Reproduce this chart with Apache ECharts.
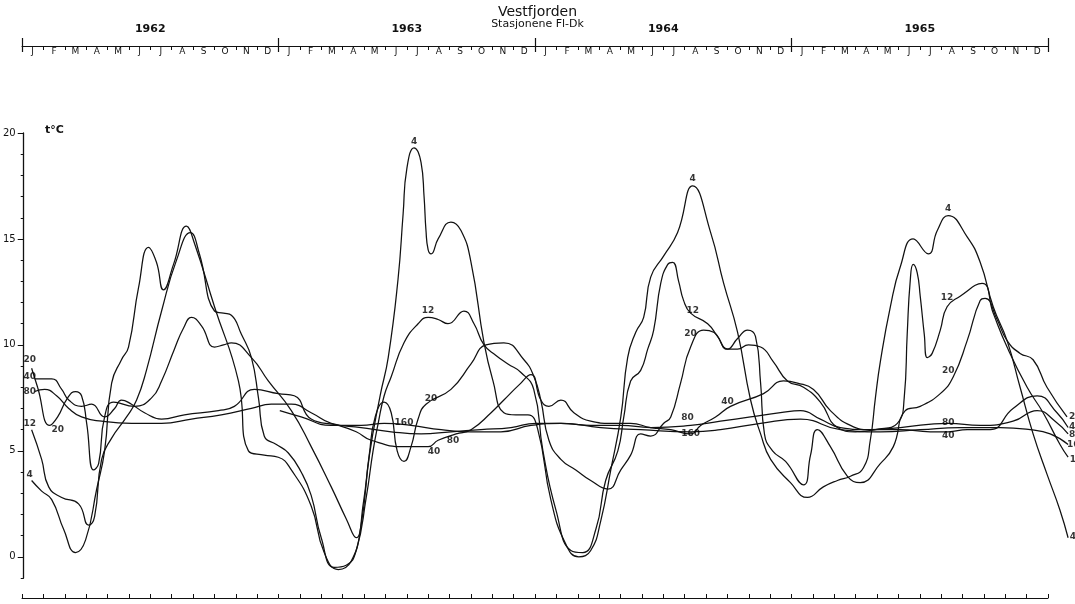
<!DOCTYPE html>
<html>
<head>
<meta charset="utf-8">
<script src="https://cdn.jsdelivr.net/npm/echarts@6/dist/echarts.min.js"></script>
<style>
  html, body { margin: 0; padding: 0; background: #fff; }
  #chart { width: 1075px; height: 604px; }
</style>
</head>
<body>
<div id="chart"></div>
<script>
// Time is counted in months from 1 January 1962; temperature in °C.
const years = ['1962', '1963', '1964', '1965'];
const monthNames = ['J', 'F', 'M', 'A', 'M', 'J', 'J', 'A', 'S', 'O', 'N', 'D'];
const yTickValues = [0, 5, 10, 15, 20];

// 4 m
const depth4 = [
  [0.37, 3.6], [0.84, 3.1], [1.31, 2.7], [1.87, 1.3], [2.43, 0.2], [2.9, 0.8], [3.42, 3.2], [3.79, 5.0],
  [4.12, 8.2], [4.58, 9.3], [4.91, 9.9], [5.38, 12.7], [5.85, 14.6], [6.22, 13.9], [6.55, 12.6], [7.02, 13.8],
  [7.63, 15.6], [8.0, 14.8], [8.94, 11.8], [10.06, 8.3], [10.53, 5.0], [11.27, 4.8], [11.93, 4.7],
  [12.54, 4.1], [13.47, 2.4], [14.08, 0.2], [14.74, -0.6], [15.35, -0.2], [15.81, 1.5], [16.2, 4.8],
  [16.7, 7.6], [17.08, 9.4], [17.54, 13.1], [17.78, 16.2], [17.95, 18.3], [18.29, 19.3], [18.62, 18.6],
  [18.76, 17.0], [18.85, 15.4], [18.95, 14.5], [19.09, 14.3], [19.42, 15.0], [20.02, 15.8], [20.49, 15.4],
  [20.96, 13.9], [21.57, 10.1], [21.99, 8.3], [22.5, 6.8], [23.06, 6.7], [23.63, 6.7], [24.09, 6.0],
  [24.7, 2.7], [25.4, 0.6], [26.01, 0.0], [26.57, 0.3], [27.04, 1.7], [27.51, 4.1], [27.98, 6.6], [28.3, 9.4],
  [28.68, 10.6], [29.05, 11.3], [29.38, 13.2], [29.99, 14.2], [30.64, 15.3], [31.35, 17.5], [32.19, 15.3],
  [32.8, 12.9], [33.45, 10.6], [34.06, 7.4], [34.53, 5.8], [35.0, 4.6],
  [35.93, 3.5], [36.73, 2.8], [37.47, 3.3], [38.13, 3.6], [38.74, 3.8], [39.35, 4.2], [39.67, 5.5],
  [39.91, 7.5], [40.14, 9.2], [40.61, 11.8], [41.08, 13.7], [41.68, 15.0], [42.39, 14.3], [42.81, 15.4],
  [43.32, 16.1], [44.21, 15.1], [44.82, 13.9], [45.43, 11.8], [46.08, 10.2], [46.69, 8.0], [47.3, 5.8],
  [47.95, 3.9], [48.56, 2.2], [48.94, 0.9]
];

// 12 m
const depth12 = [
  [0.37, 6.0], [0.84, 4.6], [1.17, 3.3], [1.78, 2.8], [2.57, 2.5], [3.04, 1.5], [3.32, 1.9], [3.65, 4.6],
  [4.12, 5.6], [4.82, 6.6], [5.29, 7.4], [5.75, 8.8], [6.46, 11.6], [7.16, 14.0], [7.81, 15.3], [8.23, 14.3],
  [8.94, 11.6], [9.36, 11.5], [9.73, 11.4], [10.2, 10.5], [10.67, 9.4], [11.0, 7.5], [11.27, 5.7],
  [11.84, 5.3], [12.4, 4.9],
  [13.0, 4.0], [13.47, 2.9], [13.94, 0.9], [14.55, -0.5], [15.11, -0.4], [15.58, 0.3], [16.05, 2.8],
  [16.37, 5.0], [16.61, 6.3], [16.89, 7.6], [17.22, 8.5], [17.82, 10.1], [18.48, 11.0], [18.95, 11.3],
  [19.42, 11.2], [19.88, 11.0], [20.63, 11.6], [21.1, 11.0], [21.57, 10.0], [22.13, 9.5], [22.69, 9.1],
  [23.3, 8.7], [23.9, 7.9],
  [24.33, 5.0], [24.94, 2.2], [25.64, 0.3], [26.2, 0.2], [26.81, 1.3], [27.27, 3.6], [27.84, 5.0],
  [28.12, 6.6], [28.44, 8.3], [28.91, 8.8], [29.24, 9.8], [29.52, 10.7], [29.85, 12.9], [30.18, 13.8],
  [30.41, 13.9], [30.69, 13.0], [30.92, 12.1], [31.25, 11.5], [32.05, 11.0], [32.51, 10.4], [32.98, 9.8],
  [33.45, 9.8], [33.96, 10.0], [34.53, 9.9], [35.13, 9.2], [35.79, 8.3], [36.54, 8.0], [37.33, 7.3],
  [38.13, 6.1],
  [38.97, 5.9], [39.91, 6.0], [40.94, 6.3], [41.26, 7.5], [41.4, 10.5], [41.54, 13.0], [41.68, 13.8],
  [41.87, 13.4], [42.01, 12.3], [42.2, 10.5], [42.34, 9.4], [42.57, 9.6], [42.95, 10.7], [43.27, 11.8],
  [43.88, 12.3], [44.91, 12.9], [45.43, 11.5], [46.08, 9.9], [47.02, 8.0], [47.77, 6.8], [48.56, 5.3],
  [48.94, 4.7]
];

// 20 m
const depth20 = [
  [0.37, 8.9], [0.65, 8.0], [1.22, 6.2], [1.59, 6.6], [2.06, 7.5], [2.43, 7.8], [2.71, 7.6], [2.95, 6.3],
  [3.27, 4.1], [3.51, 4.4], [3.79, 6.6], [4.21, 7.3], [5.19, 7.1], [5.99, 7.5], [6.46, 8.3], [7.06, 9.8],
  [7.49, 10.8], [7.86, 11.3], [8.33, 10.9], [8.94, 9.9], [9.36, 10.0], [9.73, 10.1], [10.67, 9.4],
  [11.46, 8.3],
  [12.54, 6.9], [13.47, 5.2], [14.41, 3.3], [15.11, 1.8], [15.58, 0.9], [15.91, 2.5], [16.19, 4.8],
  [16.47, 6.6], [16.89, 7.3], [17.22, 6.8], [17.5, 5.0], [17.82, 4.5], [18.15, 5.2], [18.48, 6.5],
  [18.85, 7.2], [20.02, 7.9], [20.96, 9.1], [21.66, 10.0], [22.5, 10.1], [23.44, 9.3], [23.91, 8.5],
  [24.23, 7.4], [24.61, 5.5], [25.17, 4.6], [25.87, 4.1], [26.57, 3.6], [27.37, 3.2], [27.98, 4.1],
  [28.44, 4.8], [28.91, 5.8], [29.38, 5.7], [29.99, 6.3], [30.32, 6.6], [30.78, 8.2], [31.25, 9.9],
  [31.86, 10.7], [32.33, 10.6], [32.98, 9.8], [33.45, 10.3], [33.92, 10.7], [34.29, 10.4], [34.53, 8.2],
  [34.71, 5.8], [35.09, 5.0],
  [35.7, 4.5], [36.54, 3.4], [36.87, 4.8], [37.19, 6.0], [37.8, 5.2], [38.6, 3.8], [39.2, 3.5],
  [40.14, 4.4], [40.75, 5.2], [41.31, 6.9], [42.01, 7.1], [42.95, 7.7], [43.56, 8.5], [44.21, 10.2],
  [44.82, 12.1], [45.05, 12.2], [45.61, 11.2], [46.08, 10.2], [46.69, 9.6], [47.3, 9.3], [47.95, 8.0],
  [48.89, 6.6]
];

// 40 m
const depth40 = [
  [0.51, 8.4], [1.31, 8.4], [1.78, 7.9], [2.11, 7.4], [2.71, 7.1], [3.18, 7.2], [3.79, 6.6], [4.26, 7.0],
  [4.58, 7.4], [5.05, 7.2], [5.66, 6.8], [6.46, 6.5], [7.53, 6.7], [9.12, 6.9], [9.87, 7.1], [10.81, 7.9],
  [11.93, 7.7],
  [12.68, 7.6], [13.47, 6.5], [14.74, 6.2], [15.58, 5.9], [16.28, 5.5], [17.82, 5.2], [18.95, 5.2],
  [19.42, 5.5], [20.26, 5.8], [20.96, 6.0], [21.9, 6.8], [22.5, 7.4], [23.2, 8.1], [23.77, 8.6],
  [24.23, 7.4], [24.61, 7.1], [25.17, 7.4], [25.78, 6.8], [26.57, 6.4], [27.51, 6.3], [28.44, 6.3],
  [29.38, 6.1], [30.32, 6.0], [31.25, 5.8], [31.72, 6.2], [32.42, 6.6], [33.12, 7.1], [34.67, 7.7],
  [35.6, 8.3], [36.26, 8.2], [37.01, 7.9], [37.8, 6.9], [38.74, 6.2],
  [39.67, 6.0], [41.08, 6.0], [42.48, 5.9], [43.32, 5.9], [44.21, 6.0], [45.29, 6.0], [46.36, 7.0],
  [47.49, 7.6], [48.42, 6.8], [48.94, 6.1]
];

// 80 m
const depth80 = [
  [0.51, 7.8], [0.98, 7.9], [1.54, 7.6], [2.11, 7.0], [2.71, 6.6], [3.65, 6.4], [5.05, 6.3], [6.46, 6.3],
  [7.86, 6.5], [9.26, 6.7], [10.67, 7.0], [11.6, 7.2],
  [12.54, 7.2], [13.47, 6.8], [14.41, 6.3], [15.81, 6.1], [17.22, 5.9], [18.62, 5.8], [20.02, 5.9],
  [21.43, 6.0], [22.83, 6.1], [24.0, 6.3],
  [25.17, 6.3], [26.57, 6.2], [27.98, 6.2], [29.38, 6.1], [31.25, 6.2], [32.65, 6.4], [34.06, 6.6],
  [35.46, 6.8], [36.4, 6.9], [37.33, 6.5], [38.27, 6.1],
  [39.67, 6.0], [41.08, 6.1], [43.32, 6.3], [44.82, 6.2], [46.36, 6.4], [47.49, 6.9], [48.33, 6.4],
  [48.94, 5.8]
];

// 160 m
const depth160 = [
  [12.0, 6.9], [13.0, 6.6], [14.41, 6.2], [15.81, 6.2], [16.89, 6.3], [18.15, 6.2], [19.56, 6.0],
  [20.96, 5.9], [22.36, 5.9], [23.77, 6.2], [25.17, 6.3], [27.04, 6.1], [28.91, 6.0], [31.25, 5.9],
  [32.65, 6.0], [34.53, 6.3], [36.4, 6.5], [38.27, 6.0], [40.14, 5.9], [42.01, 6.0], [43.88, 6.1],
  [45.76, 6.1], [47.16, 6.0], [48.1, 5.8], [48.94, 5.3]
];

// Depth labels written beside the curves: [month, °C, text]
const curveLabels = [
  [0.28, 9.3, '20'], [0.28, 8.5, '40'], [0.28, 7.8, '80'], [0.28, 6.3, '12'], [0.28, 3.9, '4'], [1.59, 6.0, '20'],
  [18.29, 19.6, '4'], [18.95, 11.6, '12'], [19.09, 7.45, '20'], [17.82, 6.35, '160'], [20.12, 5.5, '80'], [19.23, 4.95, '40'],
  [31.35, 17.85, '4'], [31.35, 11.6, '12'], [31.25, 10.55, '20'], [32.98, 7.3, '40'], [31.11, 6.55, '80'], [31.25, 5.8, '160'],
  [43.32, 16.45, '4'], [43.27, 12.25, '12'], [43.32, 8.8, '20'], [43.32, 6.35, '80'], [43.32, 5.7, '40']
];
// Labels at the right-hand ends of the curves: [month, °C, text]
const endLabels = [
  [48.98, 6.6, '20'], [48.98, 6.13, '40'], [48.98, 5.75, '80'], [48.89, 5.28, '160'], [49.02, 4.58, '12'], [49.02, 0.94, '4']
];

const depthSeries = [
  ['4', depth4], ['12', depth12], ['20', depth20], ['40', depth40], ['80', depth80], ['160', depth160]
];

const monthLabels = years.flatMap(() => monthNames);
const allTicks = [];
for (let v = -1; v <= 20; v++) allTicks.push(v);

const FONT = 'DejaVu Sans';
const INK = '#111111';
// Month scale: 1 month = 21.375 px, so the plot runs a little past the end of 1965
const PX_PER_MONTH = 21.375;
const PLOT_LEFT = 22;
const PLOT_WIDTH = 1075 - PLOT_LEFT;
const PLOT_MAX = PLOT_WIDTH / PX_PER_MONTH;

const chart = echarts.init(document.getElementById('chart'), null, { renderer: 'canvas' });

const lineSeries = depthSeries.map(([name, data]) => ({
  name: name + ' m',
  type: 'line',
  xAxisIndex: 0,
  yAxisIndex: 0,
  data: data,
  smooth: 0.5,
  showSymbol: false,
  symbol: 'none',
  clip: false,
  lineStyle: { color: INK, width: 1.25 },
  emphasis: { disabled: true },
  silent: true,
  z: 3
}));

const labelItem = (align) => (d) => ({
  value: [d[0], d[1]],
  label: { formatter: d[2], align: align }
});

const labelSeries = (items, align) => ({
  type: 'scatter',
  xAxisIndex: 0, yAxisIndex: 0,
  symbolSize: 2,
  itemStyle: { color: 'rgba(255,255,255,0)' },
  silent: true,
  clip: false,
  label: {
    show: true, position: 'inside', fontSize: 9, fontWeight: 'bold', color: '#000', fontFamily: FONT,
    verticalAlign: 'middle'
  },
  labelLayout: { hideOverlap: false },
  data: items.map(labelItem(align)),
  z: 5
});

chart.setOption({
  animation: false,
  backgroundColor: '#ffffff',
  textStyle: { fontFamily: FONT, color: INK },
  title: {
    text: 'Vestfjorden',
    subtext: 'Stasjonene Fl-Dk',
    left: 'center',
    top: 0,
    itemGap: 0,
    textStyle: { fontFamily: FONT, fontSize: 14, fontWeight: 'normal', color: INK },
    subtextStyle: { fontFamily: FONT, fontSize: 11, color: INK }
  },
  graphic: [{
    type: 'text',
    left: 45,
    top: 125,
    style: { text: 't°C', font: 'bold 11px "DejaVu Sans"', fill: INK }
  }],
  grid: [
    { left: PLOT_LEFT, width: PLOT_WIDTH, top: 133, height: 445 },
    { left: PLOT_LEFT, width: 1026, top: 45, height: 1 },
    { left: PLOT_LEFT, width: 1026, top: 597, height: 1 }
  ],
  xAxis: [
    { gridIndex: 0, type: 'value', min: 0, max: PLOT_MAX, show: false },
    {
      gridIndex: 1, type: 'category', data: monthLabels, position: 'top', boundaryGap: true,
      axisLine: { show: true, lineStyle: { color: INK, width: 1 } },
      axisTick: { show: true, inside: true, length: 4, lineStyle: { color: INK } },
      axisLabel: { show: true, inside: true, interval: 0, margin: 2, fontSize: 9, color: INK, fontFamily: FONT, verticalAlign: 'top' }
    },
    {
      gridIndex: 1, type: 'category', data: years, position: 'top', offset: -7, boundaryGap: true,
      axisLine: { show: false },
      axisTick: { show: true, length: 14, lineStyle: { color: INK, width: 1.2 } },
      axisLabel: { show: false }
    },
    {
      gridIndex: 1, type: 'category', data: years, position: 'top', boundaryGap: true,
      axisLine: { show: false },
      axisTick: { show: false },
      axisLabel: { show: true, margin: 10, fontSize: 11, fontWeight: 'bold', color: INK, fontFamily: FONT }
    },
    {
      gridIndex: 2, type: 'value', min: 0, max: 48, interval: 1, position: 'bottom',
      axisLine: { show: true, lineStyle: { color: INK, width: 1 } },
      axisTick: { show: true, inside: true, length: 4, lineStyle: { color: INK } },
      axisLabel: { show: false },
      splitLine: { show: false }
    }
  ],
  yAxis: [
    {
      gridIndex: 0, type: 'value', min: -1, max: 20, position: 'left',
      axisLine: { show: true, lineStyle: { color: INK, width: 1.3 } },
      axisTick: { show: true, length: 6, customValues: yTickValues, lineStyle: { color: INK } },
      axisLabel: { show: true, customValues: yTickValues, margin: 8, fontSize: 10, color: INK, fontFamily: FONT },
      splitLine: { show: false }
    },
    {
      gridIndex: 0, type: 'value', min: -1, max: 20, position: 'left',
      axisLine: { show: false },
      axisTick: { show: true, length: 3, customValues: allTicks, lineStyle: { color: INK } },
      axisLabel: { show: false },
      splitLine: { show: false }
    },
    { gridIndex: 1, type: 'value', show: false },
    { gridIndex: 2, type: 'value', show: false }
  ],
  series: [
    ...lineSeries,
    labelSeries(curveLabels, 'center'),
    labelSeries(endLabels, 'left')
  ]
});
</script>
</body>
</html>
